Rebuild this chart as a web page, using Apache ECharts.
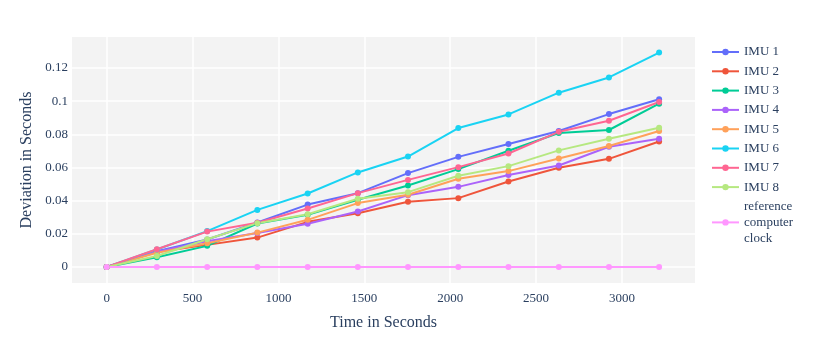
<!DOCTYPE html>
<html>
<head>
<meta charset="utf-8">
<script src="https://cdn.jsdelivr.net/npm/echarts@6/dist/echarts.min.js"></script>
<style>
    html, body { margin: 0; padding: 0; background: #fff; }
    #chart { width: 817px; height: 338px; }
</style>
</head>
<body>
<div id="chart"></div>
<script>
    // time of each reading, seconds
    const times = [0, 292, 585, 877, 1170, 1462, 1754, 2047, 2339, 2632, 2924, 3216]

    const imu1 = [0, 0.0095, 0.0165, 0.0268, 0.0376, 0.0445, 0.0566, 0.0664, 0.0741, 0.082, 0.0922, 0.1011]
    const imu2 = [0, 0.009, 0.0133, 0.0177, 0.0272, 0.0324, 0.0393, 0.0415, 0.0515, 0.0598, 0.0652, 0.0757]
    const imu3 = [0, 0.0058, 0.0127, 0.0262, 0.0314, 0.0405, 0.0491, 0.059, 0.0701, 0.0808, 0.0826, 0.0985]
    const imu4 = [0, 0.0092, 0.0155, 0.0205, 0.026, 0.0334, 0.0433, 0.0483, 0.0554, 0.0612, 0.0725, 0.0773]
    const imu5 = [0, 0.0085, 0.0143, 0.0207, 0.0284, 0.0385, 0.0435, 0.0532, 0.0578, 0.0654, 0.0729, 0.082]
    const imu6 = [0, 0.0105, 0.0216, 0.0344, 0.0443, 0.057, 0.0666, 0.0838, 0.092, 0.1051, 0.1143, 0.1293]
    const imu7 = [0, 0.0107, 0.0213, 0.0266, 0.0352, 0.0445, 0.0525, 0.0602, 0.0684, 0.0815, 0.0882, 0.0995]
    const imu8 = [0, 0.0066, 0.0167, 0.0264, 0.0318, 0.0411, 0.0451, 0.055, 0.0608, 0.0703, 0.0773, 0.084]
    const reference = [0, 0, 0, 0, 0, 0, 0, 0, 0, 0, 0, 0]

    const seriesNames = ['IMU 1', 'IMU 2', 'IMU 3', 'IMU 4', 'IMU 5', 'IMU 6', 'IMU 7', 'IMU 8', 'reference\ncomputer\nclock']
    const seriesValues = [imu1, imu2, imu3, imu4, imu5, imu6, imu7, imu8, reference]

    const xTicks = [0, 500, 1000, 1500, 2000, 2500, 3000]
    const yTicks = [0, 0.02, 0.04, 0.06, 0.08, 0.1, 0.12]

    const colors = ['#636efa', '#ef553b', '#00cc96', '#ab63fa', '#ffa15a', '#19d3f3', '#ff6692', '#b6e880', '#ff97ff']
    const font = 'Liberation Serif'
    const textColor = '#2a3f5f'

    let mychart = echarts.init(document.getElementById('chart'))
    let option = {
        color: colors,
        animation: false,
        textStyle: { fontFamily: font },
        grid: {
            left: 72,
            right: 122,
            top: 37,
            bottom: 55,
            show: true,
            backgroundColor: '#f3f3f3',
            borderWidth: 0
        },
        legend: {
            orient: 'vertical',
            left: 706,
            top: 39,
            itemWidth: 27,
            itemHeight: 8,
            itemGap: 3.3,
            textStyle: { fontFamily: font, fontSize: 13, color: textColor, lineHeight: 16 }
        },
        xAxis: {
            type: 'value',
            min: -202,
            max: 3425,
            name: 'Time in Seconds',
            nameLocation: 'middle',
            nameGap: 32,
            nameTextStyle: { fontFamily: font, fontSize: 16, color: textColor },
            axisLine: { show: false },
            axisTick: { show: false, customValues: xTicks },
            axisLabel: {
                customValues: xTicks,
                fontFamily: font, fontSize: 13, color: textColor, margin: 9,
                formatter: v => String(v)
            },
            splitLine: { lineStyle: { color: '#ffffff', width: 1.5 } }
        },
        yAxis: {
            type: 'value',
            min: -0.0097,
            max: 0.1387,
            name: 'Deviation in Seconds',
            nameLocation: 'middle',
            nameGap: 36,
            nameTextStyle: { fontFamily: font, fontSize: 16, color: textColor },
            axisLine: { show: false },
            axisTick: { show: false, customValues: yTicks },
            axisLabel: {
                customValues: yTicks,
                fontFamily: font, fontSize: 13, color: textColor, margin: 4,
                formatter: v => String(+v.toFixed(2))
            },
            splitLine: { lineStyle: { color: '#ffffff', width: 1.5 } }
        },
        series: seriesNames.map((name, i) => ({
            name: name,
            type: 'line',
            data: times.map((t, j) => [t, seriesValues[i][j]]),
            symbol: 'circle',
            symbolSize: 6,
            showSymbol: true,
            lineStyle: { width: 2 }
        }))
    }
    mychart.setOption(option)
</script>
</body>
</html>
